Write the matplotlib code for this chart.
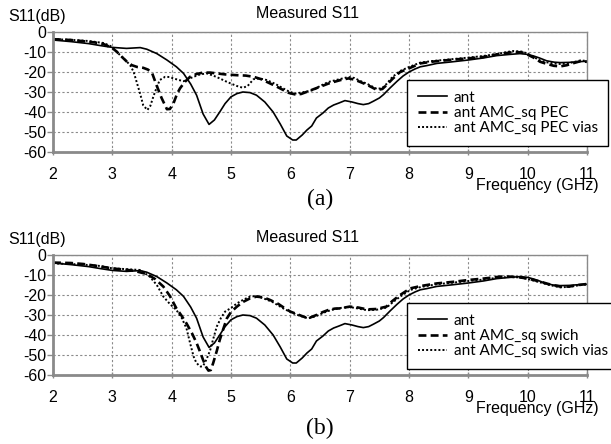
import matplotlib
matplotlib.use("Agg")
import matplotlib.pyplot as plt

plt.rcParams['font.family'] = ['Liberation Sans', 'DejaVu Sans']
plt.rcParams['axes.unicode_minus'] = False

W, H = 611, 444

# measured S11 of the bare antenna (same in both panels)
ant_f = [2.0, 2.3, 2.6, 2.8, 3.0,
         3.24, 3.47, 3.58, 3.75, 3.92,
         4.08, 4.2, 4.32, 4.42, 4.53,
         4.63, 4.72, 4.81, 4.9, 5.0,
         5.1, 5.2, 5.32, 5.43, 5.57,
         5.71, 5.83, 5.94, 6.04, 6.1,
         6.2, 6.28, 6.36, 6.44, 6.55,
         6.64, 6.73, 6.82, 6.92, 7.04,
         7.14, 7.23, 7.32, 7.4, 7.5,
         7.57, 7.68, 7.8, 7.9, 8.0,
         8.1, 8.19, 8.3, 8.47, 8.7,
         9.0, 9.25, 9.48, 9.7, 9.87,
         10.0, 10.1, 10.2, 10.32, 10.45,
         10.55, 10.7, 10.83, 11.0]
ant_db = [-4.0, -4.8, -5.8, -6.8, -7.7,
          -8.2, -7.8, -8.6, -10.8, -14.0,
          -17.4, -20.7, -26.0, -31.6, -41.0,
          -46.2, -44.0, -40.0, -35.8, -32.4,
          -30.8, -30.0, -30.3, -31.6, -35.0,
          -40.0, -46.0, -52.0, -54.0, -54.0,
          -51.5, -49.0, -47.0, -43.0, -40.5,
          -38.0, -36.5, -35.5, -34.3, -35.0,
          -35.8, -36.3, -35.8, -34.6, -33.0,
          -31.3, -28.0, -24.6, -22.0, -20.0,
          -18.5, -17.4, -16.8, -15.7, -15.0,
          -14.0, -13.0, -11.8, -11.2, -10.8,
          -11.2, -12.0, -13.0, -14.4, -15.1,
          -15.3, -15.2, -14.9, -14.6]

# panel (a): AMC_sq PEC
pec_f = [2.0, 2.3, 2.51, 2.7, 2.85,
         3.0, 3.08, 3.16, 3.25, 3.33,
         3.42, 3.52, 3.6, 3.67, 3.75,
         3.83, 3.92, 3.97, 4.03, 4.09,
         4.14, 4.22, 4.31, 4.42, 4.53,
         4.65, 4.76, 4.9, 5.1, 5.25,
         5.38, 5.5, 5.6, 5.75, 5.88,
         5.98, 6.08, 6.18, 6.28, 6.4,
         6.5, 6.64, 6.73, 6.85, 6.98,
         7.08, 7.18, 7.3, 7.46, 7.55,
         7.62, 7.72, 7.85, 8.0, 8.19,
         8.4, 8.75, 9.0, 9.25, 9.48,
         9.65, 9.76, 9.9, 9.99, 10.1,
         10.21, 10.33, 10.44, 10.55, 10.66,
         10.78, 10.89, 11.0]
pec_db = [-3.6, -4.0, -4.6, -5.2, -6.0,
          -8.0, -10.0, -12.4, -15.0, -16.6,
          -17.5, -17.9, -18.8, -20.5, -27.0,
          -33.0, -38.6, -38.5, -35.7, -31.0,
          -28.2, -25.0, -22.4, -21.0, -20.3,
          -20.3, -20.7, -21.2, -21.6, -21.8,
          -22.4, -23.5, -24.9, -27.0, -29.0,
          -30.5, -31.2, -31.0, -29.9, -28.5,
          -27.4, -25.8, -25.0, -24.0, -23.2,
          -23.8, -25.0, -26.5, -29.0, -28.5,
          -26.6, -23.5, -20.0, -18.2, -15.7,
          -14.8, -13.8, -13.2, -12.5, -11.2,
          -10.5, -10.0, -10.2, -11.2, -12.8,
          -14.9, -16.0, -16.9, -17.2, -16.6,
          -15.5, -14.6, -14.9]

# panel (a): AMC_sq PEC vias
pecv_f = [2.0, 2.3, 2.6, 2.85, 3.0,
          3.13, 3.22, 3.3, 3.36, 3.41,
          3.47, 3.52, 3.59, 3.64, 3.69,
          3.75, 3.8, 3.89, 3.96, 4.03,
          4.12, 4.2, 4.28, 4.37, 4.48,
          4.59, 4.7, 4.81, 4.9, 5.0,
          5.1, 5.2, 5.28, 5.38, 5.48,
          5.6, 5.75, 5.88, 5.98, 6.08,
          6.2, 6.39, 6.5, 6.64, 6.8,
          6.98, 7.08, 7.18, 7.3, 7.46,
          7.55, 7.62, 7.72, 7.85, 8.0,
          8.19, 8.4, 8.75, 9.0, 9.25,
          9.48, 9.65, 9.76, 9.9, 10.0,
          10.1, 10.21, 10.33, 10.44, 10.55,
          10.66, 10.78, 10.89, 11.0]
pecv_db = [-3.6, -3.9, -4.5, -5.5, -7.4,
           -11.6, -14.0, -16.6, -20.0, -25.0,
           -31.0, -36.6, -39.0, -37.0, -32.4,
           -27.5, -24.0, -22.4, -22.5, -23.2,
           -24.0, -24.6, -23.5, -22.4, -21.2,
           -20.7, -21.8, -23.2, -24.5, -25.8,
           -27.0, -27.9, -27.0, -23.6, -23.2,
           -24.0, -26.0, -28.2, -29.8, -30.8,
           -30.2, -29.0, -27.0, -25.0, -23.8,
           -22.5, -23.0, -24.5, -26.0, -28.5,
           -28.0, -26.0, -22.5, -19.5, -17.5,
           -15.3, -14.5, -13.5, -12.8, -12.0,
           -11.0, -10.0, -9.5, -9.8, -10.8,
           -12.5, -14.2, -15.2, -15.7, -16.0,
           -15.8, -15.0, -14.2, -14.5]

# panel (b): AMC_sq swich
sw_f = [2.0, 2.3, 2.51, 2.75, 3.0,
        3.2, 3.35, 3.58, 3.72, 3.86,
        3.97, 4.08, 4.17, 4.25, 4.34,
        4.42, 4.48, 4.53, 4.58, 4.62,
        4.66, 4.7, 4.76, 4.81, 4.87,
        4.93, 5.0, 5.1, 5.2, 5.32,
        5.43, 5.55, 5.66, 5.8, 5.9,
        6.0, 6.15, 6.3, 6.44, 6.55,
        6.64, 6.75, 6.84, 7.0, 7.15,
        7.29, 7.45, 7.62, 7.72, 7.85,
        8.02, 8.2, 8.47, 8.75, 9.0,
        9.25, 9.54, 9.7, 9.87, 10.0,
        10.1, 10.21, 10.35, 10.55, 10.7,
        10.85, 11.0]
sw_db = [-3.8, -4.0, -4.5, -5.5, -6.7,
         -7.3, -7.8, -9.5, -12.0, -15.8,
         -20.5, -26.7, -30.5, -34.2, -39.0,
         -44.0, -48.5, -52.5, -56.0, -57.8,
         -57.5, -54.0, -48.0, -42.5, -37.0,
         -31.7, -28.5, -25.8, -23.5, -21.7,
         -20.8, -21.2, -22.5, -24.5, -26.5,
         -28.3, -30.0, -31.7, -30.0, -28.5,
         -27.5, -26.8, -26.7, -25.8, -26.3,
         -27.2, -27.0, -25.8, -23.0, -20.0,
         -16.7, -15.5, -14.2, -13.4, -12.5,
         -11.8, -10.8, -10.8, -11.2, -11.8,
         -12.5, -13.3, -14.5, -15.8, -15.8,
         -15.0, -14.5]

# panel (b): AMC_sq swich vias
swv_f = [2.0, 2.3, 2.6, 2.8, 3.0,
         3.2, 3.47, 3.63, 3.75, 3.86,
         3.97, 4.08, 4.17, 4.25, 4.31,
         4.37, 4.41, 4.45, 4.49, 4.53,
         4.59, 4.65, 4.7, 4.76, 4.83,
         4.9, 5.0, 5.1, 5.2, 5.32,
         5.43, 5.55, 5.7, 5.88, 6.0,
         6.15, 6.3, 6.44, 6.55, 6.64,
         6.75, 6.84, 7.0, 7.15, 7.29,
         7.45, 7.62, 7.72, 7.85, 8.02,
         8.2, 8.47, 8.75, 9.0, 9.25,
         9.54, 9.7, 9.87, 10.0, 10.1,
         10.21, 10.35, 10.55, 10.7, 10.85,
         11.0]
swv_db = [-4.2, -4.5, -5.0, -5.5, -6.7,
          -7.0, -7.5, -10.8, -15.0, -20.8,
          -24.5, -27.5, -31.5, -36.7, -44.0,
          -50.8, -53.5, -55.0, -55.8, -55.5,
          -52.0, -47.5, -42.0, -35.8, -31.5,
          -28.3, -26.5, -24.2, -22.5, -20.8,
          -20.5, -21.7, -23.5, -26.7, -28.5,
          -30.3, -31.7, -30.5, -29.0, -28.0,
          -27.0, -26.5, -26.0, -26.8, -27.6,
          -27.4, -26.3, -23.8, -20.8, -17.5,
          -16.0, -14.6, -13.8, -13.0, -12.3,
          -11.2, -11.0, -11.2, -12.0, -12.8,
          -13.7, -14.9, -16.2, -15.9, -15.2,
          -14.7]

x_ticks = [2, 3, 4, 5, 6, 7, 8, 9, 10, 11]
y_ticks = [0, -10, -20, -30, -40, -50, -60]

labels_a = ['ant', 'ant AMC_sq PEC', 'ant AMC_sq PEC vias']
labels_b = ['ant', 'ant AMC_sq swich', 'ant AMC_sq swich vias']

GRAY = '#8a8a8a'


def px_box(left, top, right, bottom):
    return [left / W, 1 - bottom / H, (right - left) / W, (bottom - top) / H]


def draw_panel(ax, f2, d2, f3, d3, labels, top):
    ax.plot(ant_f, ant_db, color='black', lw=1.2, ls='-', label=labels[0])
    ax.plot(f2, d2, color='black', lw=1.9, ls=(0, (3, 1.6)), label=labels[1])
    ax.plot(f3, d3, color='black', lw=1.4, ls=(0, (1, 1.1)), label=labels[2])

    ax.set_xlim(2, 11)
    ax.set_ylim(-60, 0)
    ax.set_xticks(x_ticks)
    ax.set_yticks(y_ticks)
    ax.set_xticklabels([str(t) for t in x_ticks])
    ax.set_yticklabels([str(t) for t in y_ticks])
    ax.grid(True, color=GRAY, ls=(0, (2, 2)), lw=0.8)
    ax.tick_params(axis='x', direction='inout', length=5, width=1, color=GRAY,
                   pad=8, labelsize=11.5)
    ax.tick_params(axis='y', direction='out', length=4, width=1, color=GRAY,
                   pad=1, labelsize=11.5)
    for s in ['left', 'bottom']:
        ax.spines[s].set_color(GRAY)
        ax.spines[s].set_linewidth(2)
    for s in ['top', 'right']:
        ax.spines[s].set_color(GRAY)
        ax.spines[s].set_linewidth(1)

    leg = ax.legend(loc='upper left', bbox_to_anchor=(407 / W, 1 - (top + 48) / H),
                    bbox_transform=fig.transFigure, borderaxespad=0,
                    frameon=True, fancybox=False, framealpha=1, edgecolor='black',
                    prop={'family': 'Lato', 'size': 11}, handlelength=1.95,
                    handletextpad=0.4, labelspacing=0.08, borderpad=0.7)
    leg.get_frame().set_linewidth(1.0)
    leg.set_zorder(10)

    fig.text(8 / W, 1 - (top - 16) / H, 'S11(dB)', fontsize=11.5, ha='left', va='center')
    fig.text(308 / W, 1 - (top - 18) / H, 'Measured S11', fontsize=11.5,
             ha='center', va='center')
    fig.text(599 / W, 1 - (top + 153) / H, 'Frequency (GHz)', fontsize=11.5,
             ha='right', va='center')


fig = plt.figure(figsize=(W / 100, H / 100), dpi=100)

ax_a = fig.add_axes(px_box(53, 32, 587, 152))
draw_panel(ax_a, pec_f, pec_db, pecv_f, pecv_db, labels_a, 32)
fig.text(320 / W, 1 - 199 / H, '(a)', fontsize=17, family='Liberation Serif',
         ha='center', va='center')

ax_b = fig.add_axes(px_box(53, 255, 587, 375))
draw_panel(ax_b, sw_f, sw_db, swv_f, swv_db, labels_b, 255)
fig.text(320 / W, 1 - 428 / H, '(b)', fontsize=17, family='Liberation Serif',
         ha='center', va='center')

fig.savefig('out.png', dpi=100)
